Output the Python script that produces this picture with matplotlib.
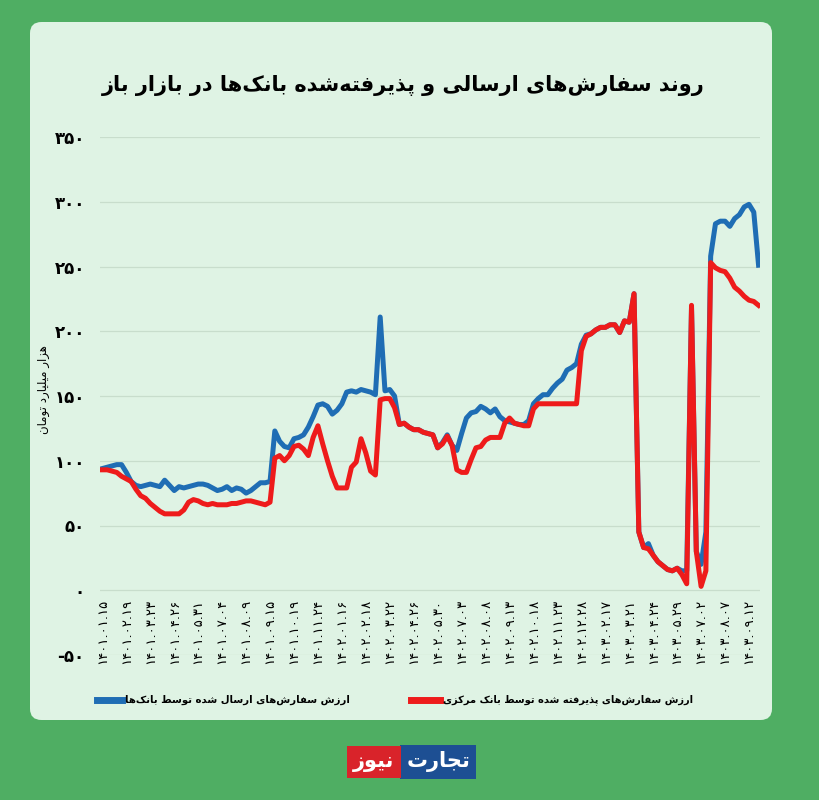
import numpy as np
import matplotlib
matplotlib.use('Agg')
import matplotlib.pyplot as plt
from matplotlib.patches import FancyBboxPatch
from matplotlib.lines import Line2D

# labels every 5 points (shamsi dates)
dates = ['1401.01.15', '1401.02.19', '1401.03.23', '1401.04.26', '1401.05.31', '1401.07.04',
         '1401.08.09', '1401.09.15', '1401.10.19', '1401.11.24', '1402.01.16', '1402.02.18',
         '1402.03.22', '1402.04.26', '1402.05.30', '1402.07.03', '1402.08.08', '1402.09.13',
         '1402.10.18', '1402.11.23', '1402.12.28', '1403.02.17', '1403.03.21', '1403.04.24',
         '1403.05.29', '1403.07.02', '1403.08.07', '1403.09.12']

# thousand billion toman
sent = [94, 95, 96, 97, 97, 91, 84, 81, 80, 81, 82, 81, 80, 85, 81, 77, 80, 79, 80, 81,
        82, 82, 81, 79, 77, 78, 80, 77, 79, 78, 75, 77, 80, 83, 83, 84,
        123, 115, 111, 110, 117, 118, 120, 126, 134, 143, 144, 142, 136, 139, 144, 153, 154, 153,
        155, 154, 153, 151, 211, 154, 155, 150,
        128, 129, 126, 124, 124, 122, 121, 120, 110, 114, 120,
        112, 108, 121, 133, 137, 138, 142, 140, 137, 140, 134, 131, 130, 129, 128, 128, 131, 144,
        148, 151, 151, 156, 160, 163, 170, 172, 175, 190, 197,
        198, 201, 203, 203, 205, 205, 199, 208, 207, 229,
        45, 33, 36, 27, 22, 19, 16, 15, 17, 15, 15, 218, 30, 20, 45,
        258, 283, 285, 285, 281, 287, 290, 296, 298, 292, 251]

accepted = [93, 93, 92, 91, 88, 86, 84, 78, 73, 71, 67, 64, 61, 59, 59, 59, 59, 62, 68, 70,
            69, 67, 66, 67, 66, 66, 66, 67, 67, 68, 69, 69, 68, 67, 66, 68,
            102, 104, 100, 104, 111, 112, 109, 104, 118, 127, 113, 100, 88, 79, 79, 79, 95, 99,
            117, 106, 92, 89, 147, 148, 148, 141,
            128, 129, 126, 124, 124, 122, 121, 120, 110, 113, 119,
            112, 93, 91, 91, 101, 110, 111, 116, 118, 118, 118, 129, 133, 129, 128, 127, 127, 140,
            144, 144, 144, 144, 144, 144, 144, 144, 144, 185, 196,
            198, 201, 203, 203, 205, 205, 199, 208, 207, 229,
            45, 33, 32, 27, 22, 19, 16, 15, 17, 12, 5, 220, 30, 3, 15,
            253, 249, 247, 246, 241, 234, 231, 227, 224, 223, 220]

yticks = [-50, 0, 50, 100, 150, 200, 250, 300, 350]

title = 'روند سفارش\u200cهای ارسالی و پذیرفته\u200cشده بانک\u200cها در بازار باز'
ylabel = 'هزار میلیارد تومان'
lab_sent = 'ارزش سفارش\u200cهای ارسال شده توسط بانک\u200cها'
lab_acc = 'ارزش سفارش\u200cهای پذیرفته شده توسط بانک مرکزی'

# simple arabic/persian shaping (matplotlib has no text shaping)
FORMS = {
    'ا': (0xFE8D, 0xFE8E), 'آ': (0xFE81, 0xFE82), 'د': (0xFEA9, 0xFEAA), 'ذ': (0xFEAB, 0xFEAC),
    'ر': (0xFEAD, 0xFEAE), 'ز': (0xFEAF, 0xFEB0), 'ژ': (0xFB8A, 0xFB8B), 'و': (0xFEED, 0xFEEE),
    'ب': (0xFE8F, 0xFE90, 0xFE91, 0xFE92), 'پ': (0xFB56, 0xFB57, 0xFB58, 0xFB59),
    'ت': (0xFE95, 0xFE96, 0xFE97, 0xFE98), 'ث': (0xFE99, 0xFE9A, 0xFE9B, 0xFE9C),
    'ج': (0xFE9D, 0xFE9E, 0xFE9F, 0xFEA0), 'چ': (0xFB7A, 0xFB7B, 0xFB7C, 0xFB7D),
    'ح': (0xFEA1, 0xFEA2, 0xFEA3, 0xFEA4), 'خ': (0xFEA5, 0xFEA6, 0xFEA7, 0xFEA8),
    'س': (0xFEB1, 0xFEB2, 0xFEB3, 0xFEB4), 'ش': (0xFEB5, 0xFEB6, 0xFEB7, 0xFEB8),
    'ص': (0xFEB9, 0xFEBA, 0xFEBB, 0xFEBC), 'ض': (0xFEBD, 0xFEBE, 0xFEBF, 0xFEC0),
    'ط': (0xFEC1, 0xFEC2, 0xFEC3, 0xFEC4), 'ظ': (0xFEC5, 0xFEC6, 0xFEC7, 0xFEC8),
    'ع': (0xFEC9, 0xFECA, 0xFECB, 0xFECC), 'غ': (0xFECD, 0xFECE, 0xFECF, 0xFED0),
    'ف': (0xFED1, 0xFED2, 0xFED3, 0xFED4), 'ق': (0xFED5, 0xFED6, 0xFED7, 0xFED8),
    'ک': (0xFB8E, 0xFB8F, 0xFB90, 0xFB91), 'گ': (0xFB92, 0xFB93, 0xFB94, 0xFB95),
    'ل': (0xFEDD, 0xFEDE, 0xFEDF, 0xFEE0), 'م': (0xFEE1, 0xFEE2, 0xFEE3, 0xFEE4),
    'ن': (0xFEE5, 0xFEE6, 0xFEE7, 0xFEE8), 'ه': (0xFEE9, 0xFEEA, 0xFEEB, 0xFEEC),
    'ی': (0xFBFC, 0xFBFD, 0xFBFE, 0xFBFF),
}


def fa(text):
    out = []
    for i, c in enumerate(text):
        f = FORMS.get(c)
        if f is None:
            if c != '\u200c':
                out.append(c)
            continue
        prev = text[i - 1] if i > 0 else ''
        nxt = text[i + 1] if i + 1 < len(text) else ''
        jp = prev in FORMS and len(FORMS[prev]) == 4
        jn = len(f) == 4 and nxt in FORMS
        if jp and jn:
            g = f[3]
        elif jp:
            g = f[1]
        elif jn:
            g = f[2]
        else:
            g = f[0]
        out.append(chr(g))
    return ''.join(reversed(out))


def fa_num(s):
    return str(s).translate(str.maketrans('0123456789', '۰۱۲۳۴۵۶۷۸۹'))


plt.rcParams['font.family'] = ['DejaVu Sans']

BLUE = '#1f6db4'
RED = '#ee1b1b'

fig = plt.figure(figsize=(8.19, 8.0), dpi=100)
fig.patch.set_facecolor('#4fae63')
panel = FancyBboxPatch((30 / 819, 1 - 720 / 800), 742 / 819, 698 / 800,
                       boxstyle='round,pad=0,rounding_size=0.014',
                       transform=fig.transFigure, facecolor='#dff3e4', edgecolor='none', zorder=0)
fig.add_artist(panel)

ax = fig.add_axes([100 / 819, 1 - 655 / 800, 660 / 819, 518 / 800])
ax.set_facecolor('none')
# x labels sit at the zero line
ax.spines['bottom'].set_position(('data', 0))
for s in ax.spines.values():
    s.set_color('none')

x = np.arange(len(sent))
ax.plot(x, sent, color=BLUE, lw=3.6, solid_joinstyle='round')
ax.plot(x, accepted, color=RED, lw=3.6, solid_joinstyle='round')

ax.set_xlim(-0.5, 137.3)
ax.set_ylim(-50, 350)
ax.set_yticks(yticks)
ax.set_yticklabels([fa_num(v) for v in yticks], fontsize=12, fontweight='bold')
ax.set_xticks(x[::5][:len(dates)])
ax.set_xticklabels([fa_num(d) for d in dates], fontsize=9.5, rotation=90)
ax.tick_params(axis='x', length=0, pad=6)
ax.tick_params(axis='y', length=0, pad=11)
ax.yaxis.grid(True, color='#c8ddcc', lw=0.9)
ax.set_axisbelow(True)

fig.text(43 / 819, 1 - 390 / 800, fa(ylabel), rotation=90, fontsize=8.5,
         ha='center', va='center')

fig.text(403 / 819, 1 - 86 / 800, fa(title), fontsize=15, fontweight='bold',
         ha='center', va='center')

# legend
ly = 1 - 700 / 800
fig.add_artist(Line2D([97 / 819, 122 / 819], [ly, ly], color=BLUE, lw=5, transform=fig.transFigure))
fig.text(125 / 819, ly, fa(lab_sent), fontsize=7.3, fontweight='bold', ha='left', va='center')
fig.add_artist(Line2D([411 / 819, 440 / 819], [ly, ly], color=RED, lw=5, transform=fig.transFigure))
fig.text(443 / 819, ly, fa(lab_acc), fontsize=7.1, fontweight='bold', ha='left', va='center')

# logo
fig.text(438 / 819, 1 - 762 / 800, fa('تجارت'), fontsize=15, fontweight='bold', color='white',
         ha='center', va='center',
         bbox=dict(boxstyle='square,pad=0.3', facecolor='#1d4f93', edgecolor='none'))
fig.text(374 / 819, 1 - 762 / 800, fa('نیوز'), fontsize=15, fontweight='bold', color='white',
         ha='center', va='center',
         bbox=dict(boxstyle='square,pad=0.3', facecolor='#d9232a', edgecolor='none'))

fig.savefig('out.png', dpi=100, facecolor=fig.get_facecolor())
